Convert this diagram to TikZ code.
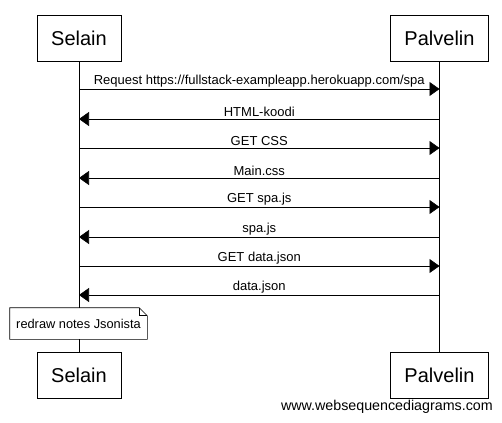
\documentclass[tikz,border=0pt]{standalone}
\usepackage{fontspec}
\setmainfont{Liberation Sans}
\usetikzlibrary{arrows.meta,calc}

\begin{document}
\begin{tikzpicture}[x=0.75pt,y=-0.75pt,
	actor/.style={draw, font=\fontsize{15}{18}\selectfont, minimum height=34.5pt, inner xsep=10.5pt},
	msg/.style={-{Triangle[length=7.5pt,width=10.5pt]}},
	lbl/.style={font=\fontsize{9.75}{12}\selectfont, above=0.5pt, inner sep=1pt},
	note/.style={fill=white, font=\fontsize{9.6}{12}\selectfont, minimum width=102.75pt, minimum height=23.25pt}]
	\useasboundingbox (0,0) rectangle (502,422);

	\node (S1) [actor] at (79,38) {Selain};
	\node (P1) [actor] at (439.5,38) {Palvelin};
	\node (S2) [actor] at (79,375) {Selain};
	\node (P2) [actor] at (439.5,375) {Palvelin};

	\draw (S1) to (S2);
	\draw (P1) to (P2);

	\coordinate (s1) at (79,89);    \coordinate (p1) at (439.5,89);
	\coordinate (s2) at (79,119);   \coordinate (p2) at (439.5,119);
	\coordinate (s3) at (79,148);   \coordinate (p3) at (439.5,148);
	\coordinate (s4) at (79,178);   \coordinate (p4) at (439.5,178);
	\coordinate (s5) at (79,207);   \coordinate (p5) at (439.5,207);
	\coordinate (s6) at (79,237);   \coordinate (p6) at (439.5,237);
	\coordinate (s7) at (79,266);   \coordinate (p7) at (439.5,266);
	\coordinate (s8) at (79,295);   \coordinate (p8) at (439.5,295);

	\draw [msg] (s1) to node [lbl] {Request https://fullstack-exampleapp.herokuapp.com/spa} (p1);
	\draw [msg] (p2) to node [lbl] {HTML-koodi} (s2);
	\draw [msg] (s3) to node [lbl] {GET CSS} (p3);
	\draw [msg] (p4) to node [lbl] {Main.css} (s4);
	\draw [msg] (s5) to node [lbl] {GET spa.js} (p5);
	\draw [msg] (p6) to node [lbl] {spa.js} (s6);
	\draw [msg] (s7) to node [lbl] {GET data.json} (p7);
	\draw [msg] (p8) to node [lbl] {data.json} (s8);

	% note on Selain
	\node (N) [note] at (78.5,323.5) {redraw notes Jsonista};
	\draw (N.south west) -- (N.north west) -- ($(N.north east)+(-8,0)$) -- ($(N.north east)+(0,8)$) -- (N.south east) -- cycle;
	\draw ($(N.north east)+(-8,0)$) |- ($(N.north east)+(0,8)$);

	\node (W) [anchor=east, inner sep=0pt, font=\fontsize{10.7}{13}\selectfont] at (493,407) {www.websequencediagrams.com};
\end{tikzpicture}
\end{document}
